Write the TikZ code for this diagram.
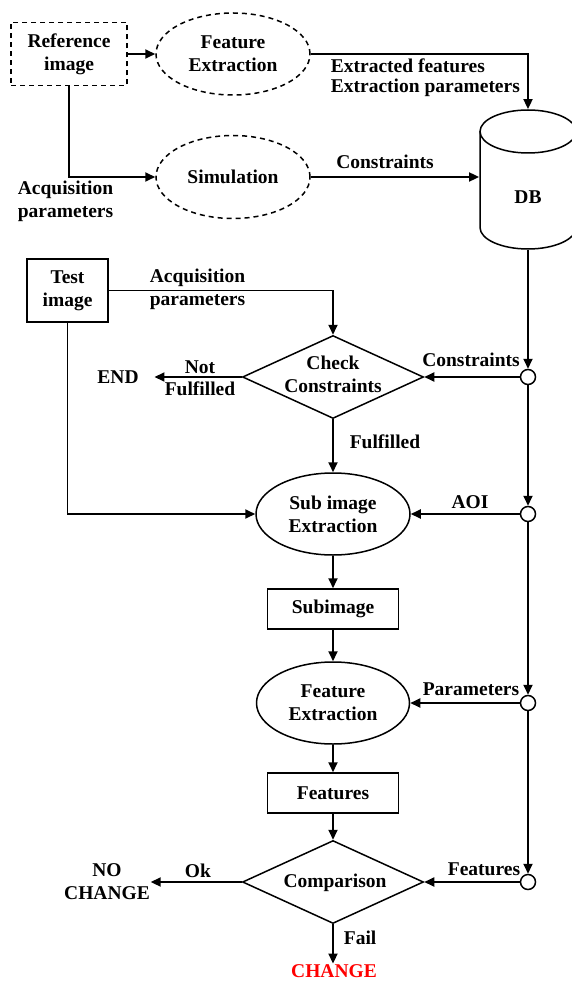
\documentclass[tikz,border=0pt]{standalone}
\usepackage{fontspec}
\setmainfont{Liberation Serif}
\usetikzlibrary{arrows.meta,shapes.geometric}
\begin{document}
\begin{tikzpicture}[x=1pt,y=-1pt,
  font=\bfseries\fontsize{19.5}{23}\selectfont,
  line width=1.8pt,
  arr/.style={-{Triangle[length=10pt,width=9pt]}},
  box/.style={draw, rectangle, line width=1.5pt, inner sep=0pt, align=center},
  ell/.style={draw, ellipse, line width=1.5pt, inner sep=0pt, align=center},
  dia/.style={draw, diamond, line width=1.5pt, inner sep=0pt, minimum width=181pt, minimum height=83pt},
  jn/.style={draw, circle, fill=white, minimum size=15pt, inner sep=0pt, line width=1.5pt},
  lbl/.style={inner sep=0pt, align=center},
  dsh/.style={dash pattern=on 5pt off 4pt},
]
\useasboundingbox (0,0) rectangle (571,981);

% top part
\node[box, dsh, minimum width=116pt, minimum height=63pt] (ref) at (69,54) {Reference\\image};
\node[ell, dsh, minimum width=154pt, minimum height=82pt] (fe1) at (233,54) {Feature\\Extraction};
\node[ell, dsh, minimum width=154pt, minimum height=83pt] (sim) at (233,177) {Simulation};
\node[minimum width=96pt, minimum height=139pt, inner sep=0pt] (DB) at (528,179.5) {};
\draw[line width=1.5pt, fill=white] (480,131.5) -- (480,227.5)
  arc[start angle=180, end angle=360, x radius=48pt, y radius=21.5pt] -- (576,131.5);
\draw[line width=1.5pt] (528,131.5) ellipse [x radius=48pt, y radius=21.5pt];
\node[lbl] (dbt) at (528,197) {DB};

\draw[arr] (ref.east) -- (fe1.west);
\draw[arr] (fe1.east) -| (DB.north);
\draw[arr] (ref.south) |- (sim.west);
\draw[arr] (sim.east) -- (sim.east -| DB.west);

\node[lbl, anchor=west, align=left, font=\bfseries\fontsize{19.5}{20}\selectfont] (extl) at (330,78) {Extracted features\\Extraction parameters};
\node[lbl] (consl1) at (385,162) {Constraints};
\node[lbl, anchor=west, align=left] (acq1) at (17,201) {Acquisition\\parameters};

% junctions
\node[jn] (c1) at (528,377) {};
\node[jn] (c2) at (528,514) {};
\node[jn] (c3) at (528,703) {};
\node[jn] (c4) at (528,882) {};
\draw[arr] (DB.south) -- (c1.north);
\draw[arr] (c1.south) -- (c2.north);
\draw[arr] (c2.south) -- (c3.north);
\draw[arr] (c3.south) -- (c4.north);

% lower flow
\node[box, minimum width=81pt, minimum height=63pt] (test) at (67.5,290.5) {Test\\image};
\node[dia] (cc) at (333,377) {};
\node[lbl] (cct) at (333,374) {Check\\Constraints};
\node[lbl, inner xsep=15pt] (endn) at (118,377) {END};
\node[ell, minimum width=154pt, minimum height=82pt] (si) at (333,514) {Sub image\\Extraction};
\node[box, minimum width=131pt, minimum height=40pt] (sub) at (333,609) {Subimage};
\node[ell, minimum width=153pt, minimum height=82pt] (fe2) at (333,703) {Feature\\Extraction};
\node[box, minimum width=131pt, minimum height=40pt] (feat) at (333,793) {Features};
\node[dia] (cmp) at (333,882) {};
\node[lbl] (cmpt) at (335,883) {Comparison};
\node[lbl] (noc) at (107,882) {NO\\CHANGE};
\node[lbl, text=red] (chg) at (334,971) {CHANGE};

\draw[arr] (test.east) -| (cc.north);
\draw[arr] (cc.west) -- (cc.west -| endn.east);
\draw[arr] (c1.west) -- (cc.east);
\draw[arr] (cc.south) -- (si.north);
\draw[arr] (test.south) |- (si.west);
\draw[arr] (c2.west) -- (si.east);
\draw[arr] (si.south) -- (sub.north);
\draw[arr] (sub.south) -- (fe2.north);
\draw[arr] (c3.west) -- (fe2.east);
\draw[arr] (fe2.south) -- (feat.north);
\draw[arr] (feat.south) -- (cmp.north);
\draw[arr] (c4.west) -- (cmp.east);
\draw[arr] (cmp.west) -- (cmp.west -| noc.east);
\draw[arr] (cmp.south) -- (cmp.south |- chg.north);

% labels
\node[lbl, anchor=west, align=left] (acq2) at (149,289) {Acquisition\\parameters};
\node[lbl, font=\bfseries\fontsize{19.5}{22}\selectfont] (nf) at (200,378) {Not\\Fulfilled};
\node[lbl] (consl2) at (471,360) {Constraints};
\node[lbl] (fulf) at (385,442) {Fulfilled};
\node[lbl] (aoi) at (470,502) {AOI};
\node[lbl] (parl) at (471,689) {Parameters};
\node[lbl] (featl) at (484,869) {Features};
\node[lbl] (okl) at (198,871) {Ok};
\node[lbl, anchor=west] (faill) at (343,938) {Fail};
\end{tikzpicture}
\end{document}
